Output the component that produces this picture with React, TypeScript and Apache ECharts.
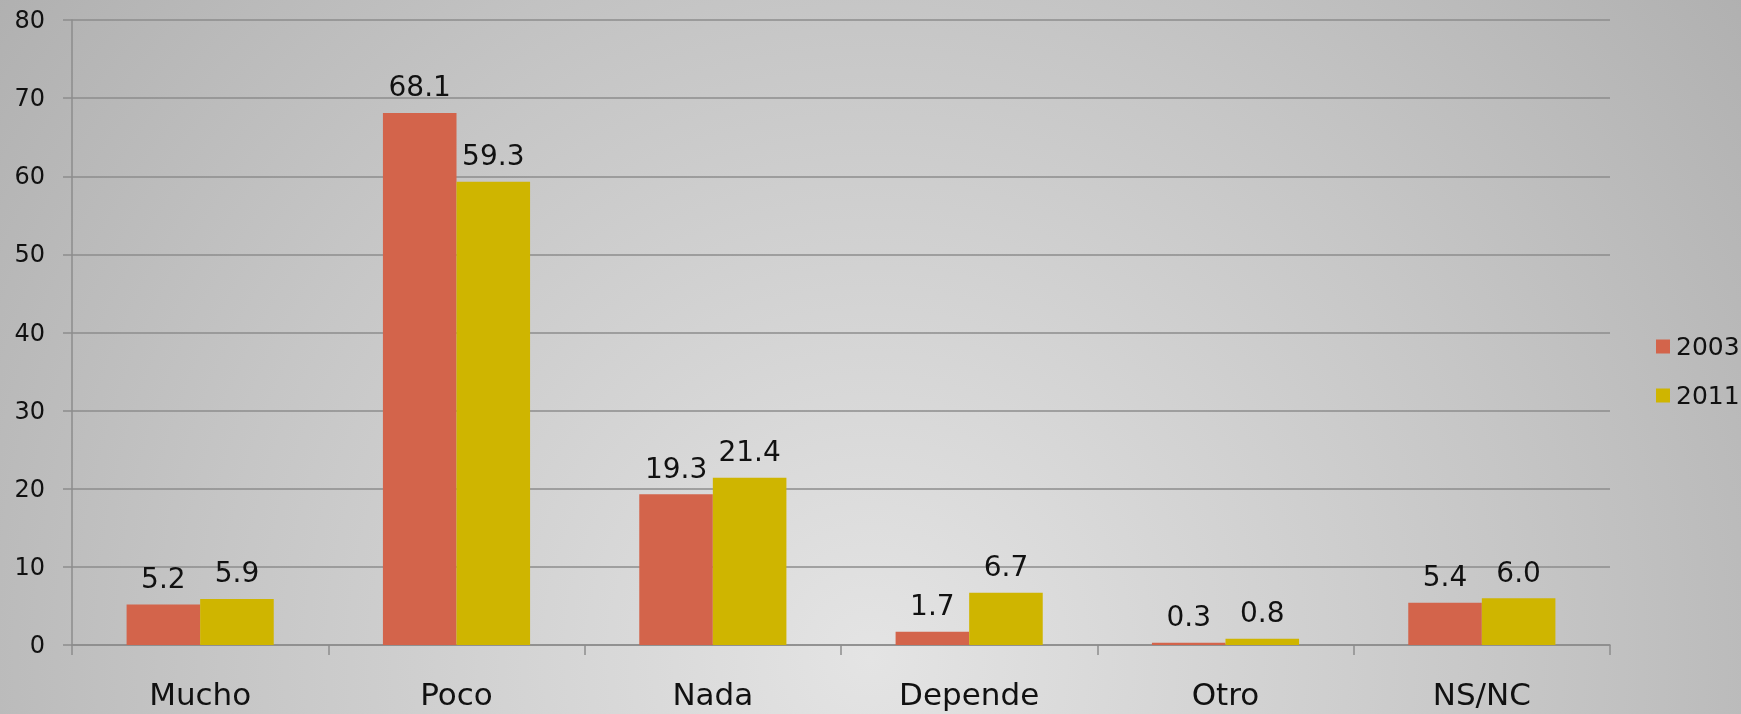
import React, { useEffect, useRef } from "react";
import * as echarts from "echarts";

const categories = ["Mucho", "Poco", "Nada", "Depende", "Otro", "NS/NC"];
const values2003 = [5.2, 68.1, 19.3, 1.7, 0.3, 5.4];
const values2011 = [5.9, 59.3, 21.4, 6.7, 0.8, 6.0];
const seriesNames = ["2003", "2011"];
const yTicks = [0, 10, 20, 30, 40, 50, 60, 70, 80];

const FONT = "DejaVu Sans";
const GRID_COLOR = "#8c8c8c";

export default function App() {
  const ref = useRef<HTMLDivElement>(null);
  useEffect(() => {
    if (!ref.current) return;
    const chart = echarts.init(ref.current, null, { renderer: "svg" });
    const labelStyle = {
      show: true,
      position: "top",
      distance: 12,
      fontFamily: FONT,
      fontSize: 28,
      color: "#111",
      formatter: (p: any) => Number(p.value).toFixed(1),
    };
    chart.setOption({
      animation: false,
      backgroundColor: "transparent",
      grid: { left: 72, right: 131, top: 20, bottom: 69, containLabel: false },
      legend: {
        orient: "vertical",
        left: 1651,
        top: 329,
        icon: "rect",
        itemWidth: 14,
        itemHeight: 14,
        itemGap: 24,
        data: seriesNames,
        textStyle: { fontFamily: FONT, fontSize: 25, color: "#111", padding: [0, 0, 0, 1] },
      },
      xAxis: {
        type: "category",
        data: categories,
        boundaryGap: true,
        axisLine: { show: true, lineStyle: { color: GRID_COLOR, width: 1.5 } },
        axisTick: { show: true, length: 10, alignWithLabel: false, lineStyle: { color: GRID_COLOR, width: 1.5 } },
        axisLabel: { margin: 33, fontFamily: FONT, fontSize: 31, color: "#111" },
      },
      yAxis: {
        type: "value",
        min: yTicks[0],
        max: yTicks[yTicks.length - 1],
        interval: 10,
        axisLine: { show: true, lineStyle: { color: GRID_COLOR, width: 1.5 } },
        axisTick: { show: true, length: 9, lineStyle: { color: GRID_COLOR, width: 1.5 } },
        splitLine: { show: true, lineStyle: { color: GRID_COLOR, width: 1.5 } },
        axisLabel: { margin: 27, fontFamily: FONT, fontSize: 24, color: "#111" },
      },
      series: [
        {
          name: seriesNames[0],
          type: "bar",
          data: values2003,
          barGap: "0%",
          barCategoryGap: "42.6%",
          itemStyle: { color: "#D3644B" },
          label: labelStyle,
        },
        {
          name: seriesNames[1],
          type: "bar",
          data: values2011,
          barGap: "0%",
          barCategoryGap: "42.6%",
          itemStyle: { color: "#CFB500" },
          label: labelStyle,
        },
      ],
    });
    return () => chart.dispose();
  }, []);
  return (
    <div
      style={{
        position: "fixed",
        left: 0,
        top: 0,
        width: 1741,
        height: 714,
        background:
          "radial-gradient(circle at 50% 92%, #e4e4e4 0px, #c6c6c6 650px, #b0b0b0 1100px)",
      }}
    >
      <div ref={ref} style={{ width: 1741, height: 714 }} />
    </div>
  );
}
